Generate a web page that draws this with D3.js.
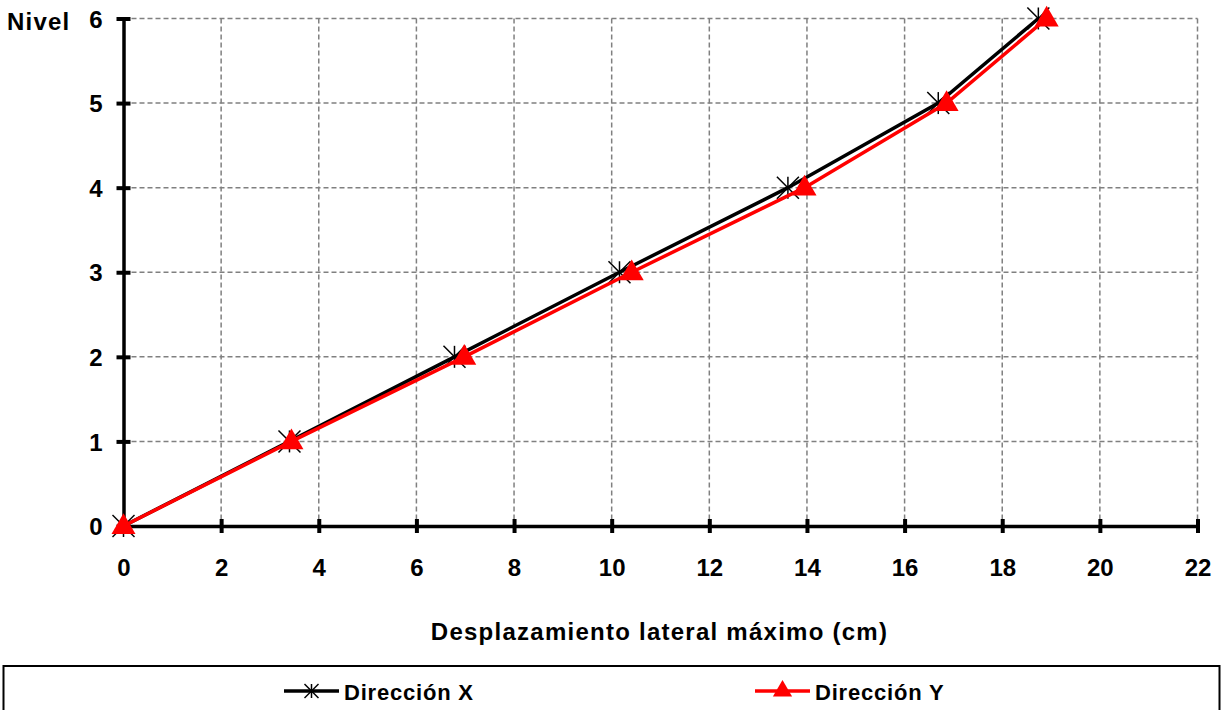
<!DOCTYPE html>
<html>
<head>
<meta charset="utf-8">
<script src="https://cdn.jsdelivr.net/npm/d3@7"></script>
<style>
  body { margin: 0; background: #fff; }
  svg { display: block; font-family: "Liberation Sans", Arial, sans-serif; font-weight: bold; }
</style>
</head>
<body>
<svg id="chart" width="1224" height="710"></svg>
<script>
// Storey levels and maximum lateral displacement (cm) in each direction
const levels = [0, 1, 2, 3, 4, 5, 6];
const dirX = [0, 3.40, 6.78, 10.16, 13.61, 16.69, 18.74];
const dirY = [0, 3.44, 6.98, 10.41, 13.95, 16.86, 18.91];
const xTicks = [0, 2, 4, 6, 8, 10, 12, 14, 16, 18, 20, 22];
const yTicks = [0, 1, 2, 3, 4, 5, 6];
const seriesNames = ["Dirección X", "Dirección Y"];

const FONT = "Liberation Sans, Arial, sans-serif";
const svg = d3.select("#chart");
const plot = { left: 123.5, right: 1197.5, top: 18.5, bottom: 526 };

const x = d3.scaleLinear().domain([0, 22]).range([plot.left, plot.right]);
const y = d3.scaleLinear().domain([0, 6]).range([plot.bottom, plot.top]);

// dashed grid
const grid = svg.append("g");
grid.selectAll("line.vx").data(xTicks.filter(d => d > 0)).join("line")
  .attr("x1", d => x(d)).attr("x2", d => x(d))
  .attr("y1", y(6)).attr("y2", y(0))
  .attr("stroke", "#808080").attr("stroke-width", 1.5).attr("stroke-dasharray", "5,3");
grid.selectAll("line.hy").data(yTicks.filter(d => d > 0)).join("line")
  .attr("x1", x(0)).attr("x2", x(22))
  .attr("y1", d => y(d)).attr("y2", d => y(d))
  .attr("stroke", "#808080").attr("stroke-width", 1.5).attr("stroke-dasharray", "5,3");

// axes
const fmt = d3.format("d");
const xAxis = d3.axisBottom(x).tickValues(xTicks).tickFormat(fmt).tickSize(0).tickPadding(0);
const yAxis = d3.axisLeft(y).tickValues(yTicks).tickFormat(fmt).tickSize(0).tickPadding(0);

const gx = svg.append("g").attr("transform", `translate(0,${plot.bottom})`).call(xAxis);
gx.attr("font-size", null).attr("font-family", null);
gx.select(".domain").attr("stroke", "#000").attr("stroke-width", 3.5);
gx.selectAll(".tick line").remove();
gx.selectAll(".tick").append("line")
  .attr("y1", -7).attr("y2", 7).attr("stroke", "#000").attr("stroke-width", 4);
gx.selectAll(".tick text")
  .attr("y", 50).attr("dy", 0)
  .attr("font-size", 24).attr("font-weight", "bold").attr("fill", "#000")
  .attr("font-family", FONT);

const gy = svg.append("g").attr("transform", `translate(${plot.left},0)`).call(yAxis);
gy.attr("font-size", null).attr("font-family", null);
gy.select(".domain").attr("stroke", "#000").attr("stroke-width", 3.5);
gy.selectAll(".tick line").remove();
gy.selectAll(".tick").append("line")
  .attr("x1", -7).attr("x2", 7).attr("stroke", "#000").attr("stroke-width", 4);
gy.selectAll(".tick text")
  .attr("x", -21).attr("dy", "0.36em")
  .attr("font-size", 24).attr("font-weight", "bold").attr("fill", "#000")
  .attr("font-family", FONT);

// axis titles
svg.append("text").attr("x", 7).attr("y", 30)
  .attr("font-size", 24).attr("fill", "#000").attr("letter-spacing", 1.2).text("Nivel");
svg.append("text").attr("x", (plot.left + plot.right) / 2 - 1).attr("y", 640)
  .attr("text-anchor", "middle").attr("font-size", 24).attr("fill", "#000")
  .attr("letter-spacing", 1.25)
  .text("Desplazamiento lateral máximo (cm)");

// series
const line = d3.line().x(d => x(d[0])).y(d => y(d[1]));
const ptsX = dirX.map((v, i) => [v, levels[i]]);
const ptsY = dirY.map((v, i) => [v, levels[i]]);

svg.append("path").datum(ptsX).attr("d", line)
  .attr("fill", "none").attr("stroke", "#000").attr("stroke-width", 3.5);

function asterisk(g, s) {
  g.append("line").attr("x1", -s).attr("x2", s).attr("y1", -s).attr("y2", s);
  g.append("line").attr("x1", -s).attr("x2", s).attr("y1", s).attr("y2", -s);
  g.append("line").attr("x1", 0).attr("x2", 0).attr("y1", -s).attr("y2", s);
}
svg.append("g").selectAll("g").data(ptsX).join("g")
  .attr("transform", d => `translate(${x(d[0])},${y(d[1])})`)
  .attr("stroke", "#000").attr("stroke-width", 1.5)
  .each(function () { asterisk(d3.select(this), 11); });

svg.append("path").datum(ptsY).attr("d", line)
  .attr("fill", "none").attr("stroke", "#ff0000").attr("stroke-width", 3.5);

const tri = d3.symbol().type(d3.symbolTriangle).size(250);
svg.append("g").selectAll("path").data(ptsY).join("path")
  .attr("transform", d => `translate(${x(d[0])},${y(d[1]) + 1})`)
  .attr("d", tri).attr("fill", "#ff0000");

// legend
svg.append("rect").attr("x", 3.5).attr("y", 666).attr("width", 1216).attr("height", 60)
  .attr("fill", "#fff").attr("stroke", "#000").attr("stroke-width", 2);

const legendItems = [
  { name: seriesNames[0], color: "#000", x0: 284, marker: "asterisk" },
  { name: seriesNames[1], color: "#ff0000", x0: 755, marker: "triangle" }
];
const ly = 691;
legendItems.forEach(it => {
  const g = svg.append("g");
  g.append("line").attr("x1", it.x0).attr("x2", it.x0 + 55).attr("y1", ly).attr("y2", ly)
    .attr("stroke", it.color).attr("stroke-width", 3.5);
  const m = g.append("g").attr("transform", `translate(${it.x0 + 27.5},${ly})`);
  if (it.marker === "asterisk") {
    m.attr("stroke", "#000").attr("stroke-width", 1.5);
    asterisk(m, 7);
  } else {
    m.append("path").attr("d", d3.symbol().type(d3.symbolTriangle).size(160)).attr("fill", it.color);
  }
  g.append("text").attr("x", it.x0 + 60).attr("y", 700)
    .attr("font-size", 22).attr("fill", "#000").attr("letter-spacing", 0.8).text(it.name);
});
</script>
</body>
</html>
